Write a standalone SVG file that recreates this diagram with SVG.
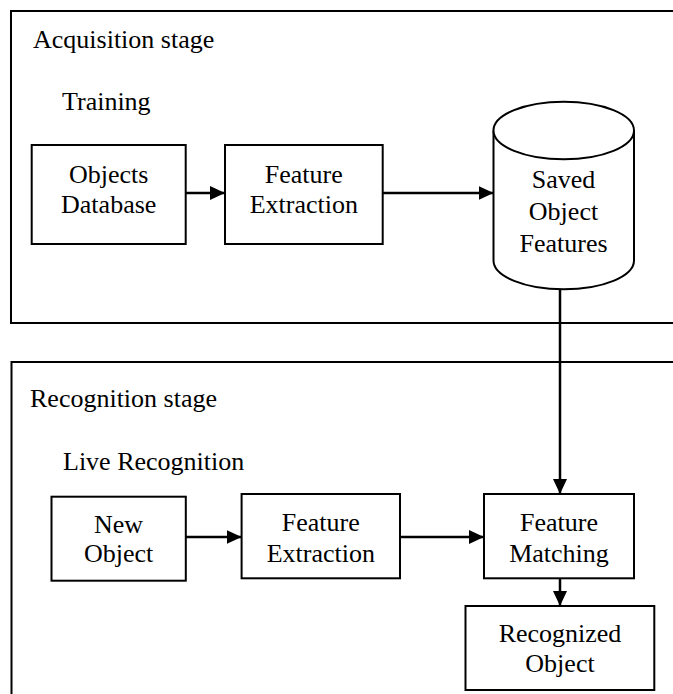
<svg xmlns="http://www.w3.org/2000/svg" width="673" height="694" viewBox="0 0 673 694">
<defs>
<style>
.frame{fill:none;stroke:#000;stroke-width:2}
.box{fill:#fff;stroke:#000;stroke-width:2}
text{font-family:'Liberation Serif','Times New Roman',Times,serif;font-size:26px;fill:#000}
.c{text-anchor:middle}
.conn{fill:none;stroke:#000;stroke-width:2.5}
</style>
<marker id="ah" markerUnits="userSpaceOnUse" markerWidth="15" markerHeight="14" refX="15" refY="7" orient="auto">
<path d="M0,0 L15,7 L0,14 Z" fill="#000"/>
</marker>
</defs>
<rect width="673" height="694" fill="#fff"/>
<g id="acquisition-stage">
<rect class="frame" x="11" y="11" width="680" height="312"/>
<text x="33" y="48">Acquisition stage</text>
<text x="62" y="110">Training</text>
</g>
<g id="recognition-stage">
<rect class="frame" x="11.5" y="362" width="680" height="350"/>
<text x="30" y="407">Recognition stage</text>
<text x="63" y="470">Live Recognition</text>
</g>
<g id="connectors">
<line class="conn" x1="185.7" y1="193" x2="225" y2="193" marker-end="url(#ah)"/>
<line class="conn" x1="382.7" y1="193" x2="493.5" y2="193" marker-end="url(#ah)"/>
<line class="conn" x1="560" y1="289" x2="560" y2="494" marker-end="url(#ah)"/>
<line class="conn" x1="185.8" y1="537" x2="241.6" y2="537" marker-end="url(#ah)"/>
<line class="conn" x1="400" y1="537" x2="484" y2="537" marker-end="url(#ah)"/>
<line class="conn" x1="560" y1="578.3" x2="560" y2="606" marker-end="url(#ah)"/>
</g>
<g id="objects-database">
<rect class="box" x="31.7" y="145" width="154" height="99"/>
<text class="c" x="108.7" y="183.3">Objects</text>
<text class="c" x="108.7" y="212.7">Database</text>
</g>
<g id="feature-extraction-1">
<rect class="box" x="225" y="145" width="157.7" height="99"/>
<text class="c" x="303.8" y="183.3">Feature</text>
<text class="c" x="303.8" y="212.7">Extraction</text>
</g>
<g id="saved-object-features">
<path class="box" d="M493.5,130.5 L493.5,260.5 A70.25,28.8 0 0 0 634,260.5 L634,130.5"/>
<ellipse class="box" cx="563.75" cy="130.5" rx="70.25" ry="28.8"/>
<text class="c" x="563.5" y="188.3">Saved</text>
<text class="c" x="563.5" y="220">Object</text>
<text class="c" x="563.5" y="251.7">Features</text>
</g>
<g id="new-object">
<rect class="box" x="51.5" y="496.7" width="134.3" height="84"/>
<text class="c" x="118.6" y="532.7">New</text>
<text class="c" x="118.6" y="561.7">Object</text>
</g>
<g id="feature-extraction-2">
<rect class="box" x="241.6" y="494" width="158.4" height="84.3"/>
<text class="c" x="320.8" y="530.7">Feature</text>
<text class="c" x="320.8" y="561.7">Extraction</text>
</g>
<g id="feature-matching">
<rect class="box" x="484" y="494" width="150" height="84.3"/>
<text class="c" x="559" y="530.7">Feature</text>
<text class="c" x="559" y="561.7">Matching</text>
</g>
<g id="recognized-object">
<rect class="box" x="465.5" y="606" width="188.8" height="84"/>
<text class="c" x="560" y="641.7">Recognized</text>
<text class="c" x="560" y="671.7">Object</text>
</g>
</svg>
